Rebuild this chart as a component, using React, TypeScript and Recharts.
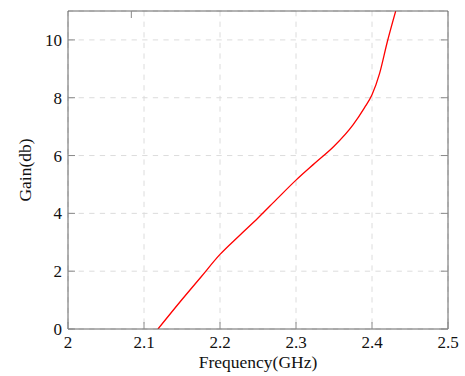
import React from 'react';
import { LineChart, Line, XAxis, YAxis, CartesianGrid } from 'recharts';

const freq = [2.1184, 2.15, 2.175, 2.2, 2.225, 2.25, 2.275, 2.3, 2.325, 2.35, 2.375, 2.39, 2.4, 2.41, 2.42, 2.4312];
const gain = [0, 1.02, 1.8, 2.58, 3.22, 3.84, 4.5, 5.15, 5.74, 6.32, 7.06, 7.65, 8.1, 8.84, 9.92, 11.0];
const xTicks = [2, 2.1, 2.2, 2.3, 2.4, 2.5];
const yTicks = [0, 2, 4, 6, 8, 10];

const data = freq.map((f, i) => ({ f, g: gain[i] }));

const FONT = '"Liberation Serif", "Times New Roman", serif';
const TICK = 7;
const TICK_COLOR = '#8a8a8a';

const renderBottomTick = (p: any) => (
  <g key={`b-${p.index}`}>
    <line x1={p.x} y1={p.y} x2={p.x} y2={p.y - TICK} stroke={TICK_COLOR} strokeWidth={1} />
    <text x={p.x} y={p.y + 19} textAnchor="middle" fontFamily={FONT} fontSize={17} fill="#111">
      {String(p.payload.value)}
    </text>
  </g>
);
const renderLeftTick = (p: any) => (
  <g key={`l-${p.index}`}>
    <line x1={p.x} y1={p.y} x2={p.x + TICK} y2={p.y} stroke={TICK_COLOR} strokeWidth={1} />
    <text x={p.x - 6} y={p.y + 6} textAnchor="end" fontFamily={FONT} fontSize={17} fill="#111">
      {String(p.payload.value)}
    </text>
  </g>
);
const renderTopTick = (p: any) => (
  <line key={`t-${p.index}`} x1={p.x} y1={p.y} x2={p.x} y2={p.y + TICK} stroke={TICK_COLOR} strokeWidth={1} />
);
const renderRightTick = (p: any) => (
  <line key={`r-${p.index}`} x1={p.x} y1={p.y} x2={p.x - TICK} y2={p.y} stroke={TICK_COLOR} strokeWidth={1} />
);

export default function App() {
  return (
    <div style={{ position: 'absolute', left: 0, top: 0, background: '#fff', fontFamily: FONT }}>
      <LineChart width={465} height={376} data={data} margin={{ top: 0, right: 0, bottom: 0, left: 0 }}>
        <CartesianGrid stroke="#dcdcdc" strokeDasharray="5.3 5.3" />
        <XAxis
          dataKey="f"
          type="number"
          domain={[2, 2.5]}
          ticks={xTicks}
          allowDataOverflow
          height={47}
          tickSize={0}
          tickMargin={0}
          tick={renderBottomTick}
          axisLine={{ stroke: '#666', strokeWidth: 1 }}
          tickLine={false}
          label={{ value: 'Frequency(GHz)', position: 'center', dy: 9, style: { fontFamily: FONT, fontSize: 17.5, fill: '#111' } }}
        />
        <XAxis
          xAxisId="top"
          orientation="top"
          type="number"
          domain={[2, 2.5]}
          ticks={xTicks}
          allowDataOverflow
          height={11}
          tickSize={0}
          tickMargin={0}
          tick={renderTopTick}
          axisLine={{ stroke: '#666', strokeWidth: 1 }}
          tickLine={false}
        />
        <YAxis
          type="number"
          domain={[0, 11]}
          ticks={yTicks}
          allowDataOverflow
          width={68}
          tickSize={0}
          tickMargin={0}
          tick={renderLeftTick}
          axisLine={{ stroke: '#666', strokeWidth: 1 }}
          tickLine={false}
          label={{ value: 'Gain(db)', angle: -90, position: 'center', dx: -9, style: { fontFamily: FONT, fontSize: 17.5, fill: '#111' } }}
        />
        <YAxis
          yAxisId="right"
          orientation="right"
          type="number"
          domain={[0, 11]}
          ticks={yTicks}
          allowDataOverflow
          width={17}
          tickSize={0}
          tickMargin={0}
          tick={renderRightTick}
          axisLine={{ stroke: '#666', strokeWidth: 1 }}
          tickLine={false}
        />
        <Line
          dataKey="g"
          type="monotone"
          stroke="#ff0000"
          strokeWidth={1.3}
          dot={false}
          isAnimationActive={false}
        />
      </LineChart>
    </div>
  );
}
